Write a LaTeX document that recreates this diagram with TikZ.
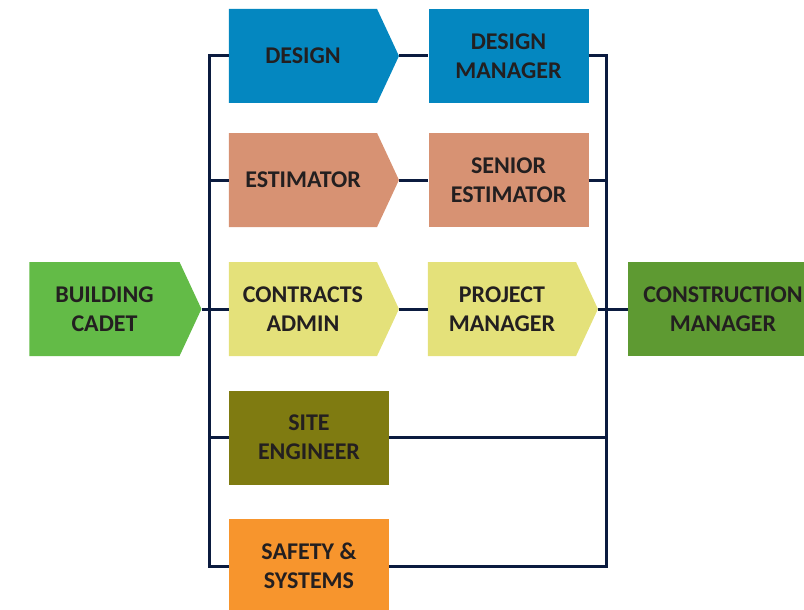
\documentclass[tikz,border=0pt]{standalone}
\usepackage{fontspec}
\setmainfont{Carlito}
\usetikzlibrary{shapes.symbols}

\definecolor{cdesign}{RGB}{4,135,192}
\definecolor{cestim}{RGB}{215,146,115}
\definecolor{ccontract}{RGB}{228,225,122}
\definecolor{ccadet}{RGB}{99,187,71}
\definecolor{cconstr}{RGB}{94,154,50}
\definecolor{csite}{RGB}{127,123,17}
\definecolor{csafety}{RGB}{247,149,45}
\definecolor{clink}{RGB}{11,27,63}
\definecolor{ctext}{RGB}{35,31,32}

\tikzset{
  box/.style={rectangle, inner sep=0pt, minimum width=160pt, minimum height=94pt,
    align=center, text=ctext, font=\bfseries\fontsize{24}{29}\selectfont},
  arrowbox/.style={box, signal, signal to=east, signal pointer angle=130, minimum width=170pt},
  link/.style={draw=clink, line width=3pt}
}

\begin{document}
\begin{tikzpicture}[x=1pt, y=-1pt]
        \useasboundingbox (0,0) rectangle (804,610);

        \node[arrowbox, fill=ccadet, minimum width=172pt] (cadet) at (104.5,309) {BUILDING\\CADET};
        \node[arrowbox, fill=cdesign] (design) at (303,56) {DESIGN};
        \node[arrowbox, fill=cestim] (estimator) at (303,180) {ESTIMATOR};
        \node[arrowbox, fill=ccontract] (contracts) at (303,309) {CONTRACTS\\ADMIN};
        \node[arrowbox, fill=ccontract] (pm) at (502,309) {PROJECT\\MANAGER};
        \node[box, fill=cdesign] (dmanager) at (508.5,56) {DESIGN\\MANAGER};
        \node[box, fill=cestim] (senior) at (508.5,180) {SENIOR\\ESTIMATOR};
        \node[box, fill=csite] (site) at (309,437.5) {SITE\\ENGINEER};
        \node[box, fill=csafety] (safety) at (309,566) {SAFETY \&\\SYSTEMS};
        \node[box, fill=cconstr, minimum width=190pt] (cmanager) at (723,309) {CONSTRUCTION\\MANAGER};

        \coordinate (lbus) at (209,0);
        \coordinate (rbus) at (606,0);

        % outer frame
        \draw[link] (design.west) -| (lbus |- safety.west) -- (safety.west);
        \draw[link] (dmanager.east) -| (rbus |- safety.east) -- (safety.east);

        % rows
        \draw[link] (design.east) -- (dmanager.west);
        \draw[link] (lbus |- estimator.west) -- (estimator.west);
        \draw[link] (estimator.east) -- (senior.west);
        \draw[link] (senior.east) -- (rbus |- senior.east);
        \draw[link] (cadet.east) -- (contracts.west);
        \draw[link] (contracts.east) -- (pm.west);
        \draw[link] (pm.east) -- (cmanager.west);
        \draw[link] (lbus |- site.west) -- (site.west);
        \draw[link] (site.east) -- (rbus |- site.east);
      \end{tikzpicture}
\end{document}
